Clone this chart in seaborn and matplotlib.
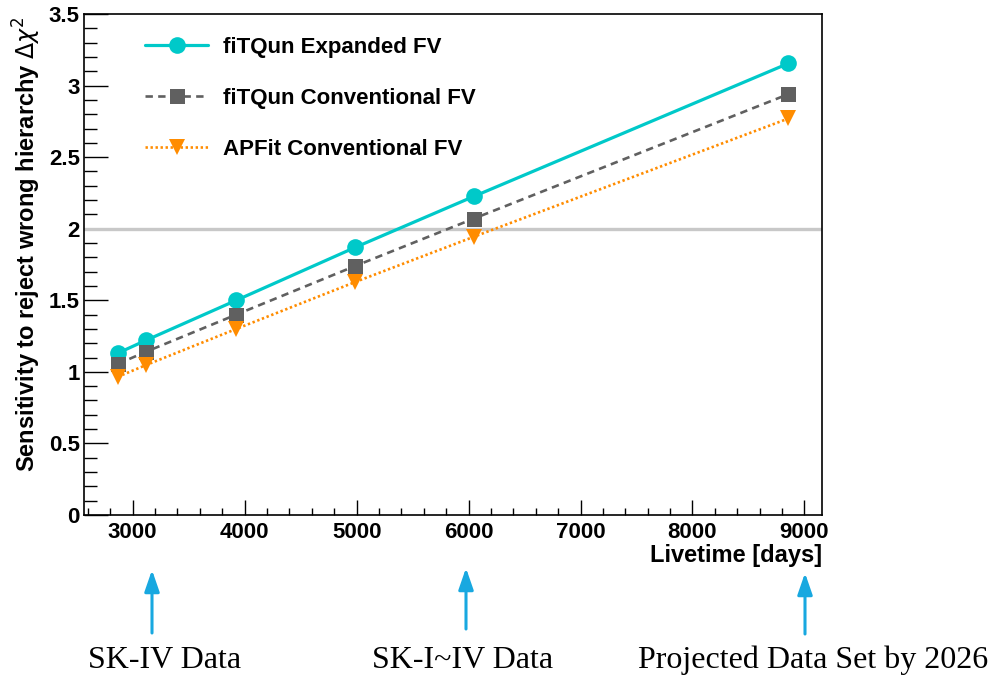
import matplotlib
matplotlib.use("Agg")
import matplotlib.pyplot as plt
from matplotlib.ticker import MultipleLocator
from matplotlib.lines import Line2D
import seaborn as sns
import pandas as pd

# Livetime (days) at which each sensitivity was evaluated
livetime = [2866, 3118, 3926, 4989, 6045, 8857]

# Delta chi^2 sensitivity to reject the wrong mass hierarchy
fitqun_expanded = [1.13, 1.22, 1.50, 1.87, 2.225, 3.155]
fitqun_conventional = [1.055, 1.14, 1.40, 1.74, 2.07, 2.94]
apfit_conventional = [0.965, 1.047, 1.30, 1.628, 1.943, 2.77]

series_names = ["fiTQun Expanded FV", "fiTQun Conventional FV", "APFit Conventional FV"]
x_ticks = [3000, 4000, 5000, 6000, 7000, 8000, 9000]
y_ticks = [0, 0.5, 1, 1.5, 2, 2.5, 3, 3.5]
y_tick_labels = ["0", "0.5", "1", "1.5", "2", "2.5", "3", "3.5"]
threshold = 2.0

milestone_labels = ["SK-IV Data", "SK-I~IV Data", "Projected Data Set by 2026"]

sns.set_theme(style="white")
plt.rcParams["font.family"] = ["Liberation Sans", "DejaVu Sans"]
plt.rcParams["mathtext.fontset"] = "dejavusans"
plt.rcParams["text.color"] = "black"
plt.rcParams["axes.labelcolor"] = "black"
plt.rcParams["xtick.color"] = "black"
plt.rcParams["ytick.color"] = "black"

df = pd.DataFrame({
    "livetime": livetime * 3,
    "dchi2": fitqun_expanded + fitqun_conventional + apfit_conventional,
    "sample": [series_names[0]] * 6 + [series_names[1]] * 6 + [series_names[2]] * 6,
})

styles = {
    series_names[0]: dict(color="#00c9c9", ls="-", marker="o", ms=12, lw=2.3),
    series_names[1]: dict(color="#606060", ls=(0, (2.8, 2.0)), marker="s", ms=10.8, lw=1.9),
    series_names[2]: dict(color="#ff8c00", ls=(0, (0.9, 1.0)), marker="v", ms=12, lw=1.9),
}

fig = plt.figure(figsize=(9.95, 6.76), dpi=100)
ax = fig.add_axes([0.0844, 0.2382, 0.7421, 0.7411])

# Reference level at delta chi^2 = 2
ax.axhline(threshold, color="#c8c8c8", lw=2.4, zorder=1)

handles = []
for name in series_names:
    st = styles[name]
    sub = df[df["sample"] == name]
    sns.lineplot(data=sub, x="livetime", y="dchi2", ax=ax, color=st["color"],
                 linestyle=st["ls"], lw=st["lw"], marker=st["marker"],
                 markersize=st["ms"], markeredgewidth=0, markerfacecolor=st["color"],
                 zorder=3, legend=False)
    handles.append(Line2D([], [], color=st["color"], ls=st["ls"], lw=st["lw"],
                          marker=st["marker"], ms=st["ms"], mew=0))

ax.set_xlim(2565, 9160)
ax.set_ylim(0, 3.5)

ax.set_xticks(x_ticks)
ax.set_xticklabels([str(t) for t in x_ticks])
ax.set_yticks(y_ticks)
ax.set_yticklabels(y_tick_labels)
ax.xaxis.set_minor_locator(MultipleLocator(200))
ax.yaxis.set_minor_locator(MultipleLocator(0.1))

ax.tick_params(axis="x", which="major", direction="in", length=10.5, width=1.0,
               color="black", labelcolor="black", pad=5, labelsize=16,
               bottom=True, top=False)
ax.tick_params(axis="x", which="minor", direction="in", length=5.3, width=1.0,
               color="black", bottom=True, top=False)
ax.tick_params(axis="y", which="major", direction="in", length=17, width=1.0,
               color="black", labelcolor="black", pad=3, labelsize=16,
               left=True, right=False)
ax.tick_params(axis="y", which="minor", direction="in", length=9, width=1.0,
               color="black", left=True, right=False)
for lab in ax.get_xticklabels() + ax.get_yticklabels():
    lab.set_fontweight("bold")

for sp in ax.spines.values():
    sp.set_color("black")
    sp.set_linewidth(1.2)

ax.set_xlabel("")
ax.set_ylabel("")
ax.text(1.0, -0.057, "Livetime [days]", transform=ax.transAxes, ha="right",
        va="top", fontsize=17, fontweight="bold", color="black")
fig.text(27 / 995, 1 - 16 / 676, "Sensitivity to reject wrong hierarchy $\\Delta\\chi^{2}$",
         rotation=90, ha="center", va="top", fontsize=17, fontweight="bold", color="black")

leg = ax.legend(handles, series_names, loc="upper left", bbox_to_anchor=(0.0826, 0.955),
                frameon=False, fontsize=16, handlelength=2.84, handletextpad=0.68,
                labelspacing=1.36, borderpad=0, borderaxespad=0)
for t in leg.get_texts():
    t.set_fontweight("bold")
    t.set_color("black")

# Milestones below the frame
arrow_px = [152, 466, 805]
arrow_tip = [676 - 570, 676 - 568, 676 - 573]
arrow_tail = [676 - 633, 676 - 629, 676 - 634]
text_px = [165, 463, 813]
for xa, yt, yb, xt, lab in zip(arrow_px, arrow_tip, arrow_tail, text_px, milestone_labels):
    ax.annotate("", xy=(xa, yt), xytext=(xa, yb), xycoords="figure pixels",
                textcoords="figure pixels", annotation_clip=False,
                arrowprops=dict(arrowstyle="-|>,head_length=1.3,head_width=0.45",
                                color="#18a8e0", lw=2.2, mutation_scale=10,
                                shrinkA=0, shrinkB=0))
    fig.text(xt / 995, (676 - 668) / 676, lab, ha="center", va="baseline",
             fontsize=23, family=["Liberation Serif", "DejaVu Serif"], color="black")

fig.savefig("out.png", dpi=100)
